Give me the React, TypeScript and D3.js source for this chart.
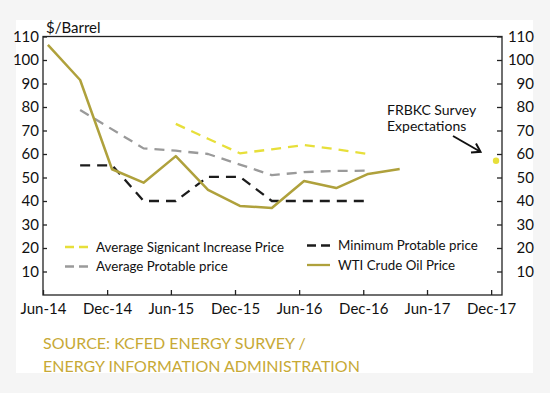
import React, { useEffect, useRef } from "react";
import * as d3 from "d3";

// quarterly observation dates (plotted mid-month)
const quarters = [
  "2014-06-15", "2014-09-15", "2014-12-15", "2015-03-15",
  "2015-06-15", "2015-09-15", "2015-12-15", "2016-03-15",
  "2016-06-15", "2016-09-15", "2016-12-15", "2017-03-15",
];
const wtiPrice = [106.4, 91.5, 53.5, 47.8, 59.1, 44.7, 37.9, 37, 48.5, 45.5, 51.5, 53.6];
const avgProfitable = [null, 78.7, null, 62.4, 61.4, 60, 55.5, 51, 52.3, 52.8, 52.9, null];
const minProfitable = [null, 55.2, 55.2, 40, 40, 50.3, 50.3, 40, 40, 40, 40, null];
const avgSignificant = [null, null, null, null, 72.8, 66.5, 60.3, 62, 63.8, 62, 60, null];

const surveyDate = "2017-12-15";
const surveyValue = 57.1;

const tickDates = [
  "2014-06-01", "2014-12-01", "2015-06-01", "2015-12-01",
  "2016-06-01", "2016-12-01", "2017-06-01", "2017-12-01",
];
const tickLabels = ["Jun-14", "Dec-14", "Jun-15", "Dec-15", "Jun-16", "Dec-16", "Jun-17", "Dec-17"];
const yTicks = [10, 20, 30, 40, 50, 60, 70, 80, 90, 100, 110];

const FONT = "Lato, 'Noto Sans', sans-serif";
const OLIVE = "#afa13c";
const YELLOW = "#e7df3a";
const GRAY = "#9a9a9a";
const BLACK = "#1c1c1c";
const GOLD = "#c7a936";

const App: React.FC = () => {
  const svgRef = useRef<SVGSVGElement | null>(null);

  useEffect(() => {
    if (!svgRef.current) return;
    const width = 550;
    const height = 393;
    const plot = { left: 43, right: 502, top: 36.5, bottom: 295 };

    d3.select(svgRef.current).selectAll("*").remove();
    const svg = d3.select(svgRef.current).attr("width", width).attr("height", height);

    svg.append("rect").attr("width", width).attr("height", height).attr("fill", "#f5f5f5");
    svg.append("rect").attr("x", 16).attr("y", 20).attr("width", 517).attr("height", 353).attr("fill", "#fff");

    const parse = d3.timeParse("%Y-%m-%d");
    const x = d3
      .scaleTime()
      .domain([parse("2014-06-01")!, parse("2018-01-01")!])
      .range([plot.left, plot.right]);
    const y = d3.scaleLinear().domain([0, 110]).range([plot.bottom, plot.top]);

    // frame
    svg
      .append("rect")
      .attr("x", plot.left)
      .attr("y", plot.top)
      .attr("width", plot.right - plot.left)
      .attr("height", plot.bottom - plot.top)
      .attr("fill", "none")
      .attr("stroke", "#222")
      .attr("stroke-width", 1.3);

    // axes
    const styleAxis = (g: d3.Selection<SVGGElement, unknown, null, undefined>) => {
      g.select(".domain").remove();
      g.selectAll("line").attr("stroke", "#222").attr("stroke-width", 1.3);
      g.selectAll("text")
        .attr("fill", "#111")
        .style("font-family", FONT)
        .style("font-size", "15px");
    };

    svg
      .append("g")
      .attr("transform", `translate(${plot.left},0)`)
      .call(d3.axisLeft(y).tickValues(yTicks).tickSize(-4).tickPadding(4))
      .call(styleAxis);

    svg
      .append("g")
      .attr("transform", `translate(${plot.right},0)`)
      .call(d3.axisRight(y).tickValues(yTicks).tickSize(-5))
      .call(styleAxis)
      .call((g) => g.selectAll("text").attr("text-anchor", "end").attr("x", 32));

    svg
      .append("g")
      .attr("transform", `translate(0,${plot.bottom})`)
      .call(
        d3
          .axisBottom(x)
          .tickValues(tickDates.map((d) => parse(d)!))
          .tickSize(-5)
          .tickPadding(8)
          .tickFormat((_, i) => tickLabels[i])
      )
      .call(styleAxis);

    // series
    const line = d3
      .line<[Date, number]>()
      .x((d) => x(d[0]))
      .y((d) => y(d[1]));

    const pts = (vals: (number | null)[]) =>
      vals
        .map((v, i) => [parse(quarters[i])!, v] as [Date, number | null])
        .filter((d) => d[1] !== null) as [Date, number][];

    const drawSeries = (vals: (number | null)[], color: string, dash: string | null, w: number) => {
      svg
        .append("path")
        .attr("d", line(pts(vals)))
        .attr("fill", "none")
        .attr("stroke", color)
        .attr("stroke-width", w)
        .attr("stroke-linejoin", "round")
        .attr("stroke-dasharray", dash);
    };

    drawSeries(avgSignificant, YELLOW, "10,7", 2.3);
    drawSeries(avgProfitable, GRAY, "10,7", 2.3);
    drawSeries(minProfitable, BLACK, "10,7", 2.3);
    drawSeries(wtiPrice, OLIVE, null, 2.5);

    // survey expectation dot
    svg
      .append("circle")
      .attr("cx", x(parse(surveyDate)!))
      .attr("cy", y(surveyValue))
      .attr("r", 3.2)
      .attr("fill", YELLOW);

    // annotation
    const note = svg
      .append("text")
      .attr("x", 387)
      .attr("y", 115)
      .attr("fill", "#111")
      .style("font-family", FONT)
      .style("font-size", "14px");
    note.append("tspan").attr("x", 387).text("FRBKC Survey");
    note.append("tspan").attr("x", 387).attr("dy", 16).text("Expectations");

    svg
      .append("line")
      .attr("x1", 453)
      .attr("y1", 136)
      .attr("x2", 480)
      .attr("y2", 151.5)
      .attr("stroke", "#111")
      .attr("stroke-width", 2);
    svg
      .append("path")
      .attr("d", "M471,152.5 L480.5,151.8 L476,143.5")
      .attr("fill", "none")
      .attr("stroke", "#111")
      .attr("stroke-width", 2);

    // y title
    svg
      .append("text")
      .attr("x", 46)
      .attr("y", 33)
      .attr("fill", "#111")
      .style("font-family", FONT)
      .style("font-size", "15px")
      .text("$/Barrel");

    // legend
    const legend = [
      { label: "Average Signicant Increase Price", color: YELLOW, dash: "9,5", lx: 65, ly: 247 },
      { label: "Average Protable price", color: GRAY, dash: "9,5", lx: 65, ly: 266.5 },
      { label: "Minimum Protable price", color: BLACK, dash: "9,5", lx: 307, ly: 245.5 },
      { label: "WTI Crude Oil Price", color: OLIVE, dash: null, lx: 307, ly: 265 },
    ];
    legend.forEach((d) => {
      svg
        .append("line")
        .attr("x1", d.lx)
        .attr("x2", d.lx + 23)
        .attr("y1", d.ly)
        .attr("y2", d.ly)
        .attr("stroke", d.color)
        .attr("stroke-width", 2.3)
        .attr("stroke-dasharray", d.dash);
      svg
        .append("text")
        .attr("x", d.lx + 31)
        .attr("y", d.ly + 4.5)
        .attr("fill", "#111")
        .style("font-family", FONT)
        .style("font-size", "13.3px")
        .text(d.label);
    });

    // source
    const src = svg
      .append("text")
      .attr("fill", GOLD)
      .style("font-family", FONT)
      .style("font-size", "16px");
    src.append("tspan").attr("x", 43).attr("y", 349).text("SOURCE: KCFED ENERGY SURVEY /");
    src.append("tspan").attr("x", 43).attr("y", 372).text("ENERGY INFORMATION ADMINISTRATION");
  }, []);

  return <svg ref={svgRef} style={{ position: "absolute", left: 0, top: 0, display: "block" }} />;
};

export default App;
